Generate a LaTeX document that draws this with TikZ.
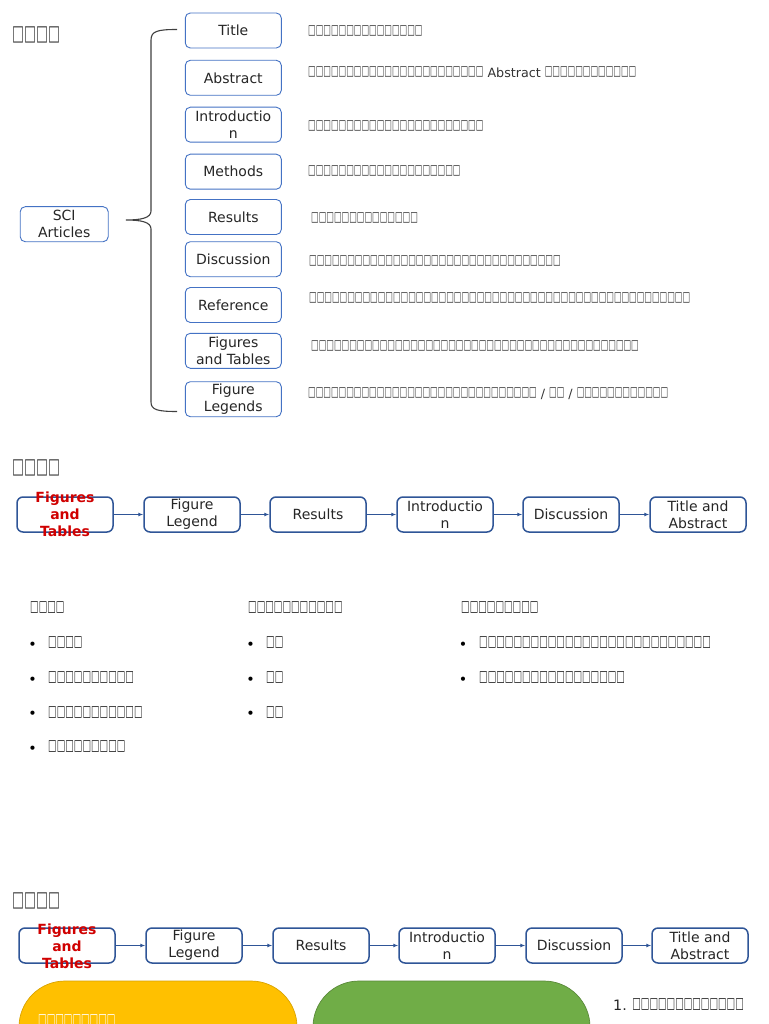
\documentclass[tikz,border=0pt]{standalone}
\usepackage{graphicx}
\usepackage{fontspec}
\setmainfont{DejaVu Sans}
\newfontfamily\tofufont{DejaVu Sans}
\usetikzlibrary{arrows.meta}
\definecolor{nodeblue}{HTML}{4472C4}
\definecolor{flowblue}{HTML}{2F5597}
\definecolor{redtxt}{HTML}{D00000}
\definecolor{ylw}{HTML}{FFC000}
\definecolor{grn}{HTML}{70AD47}
\newcommand\nodefont{\fontsize{14}{16.8}\selectfont}
\newcommand\redfont{\fontsize{14}{17}\selectfont\bfseries}
\newcommand\descfont{\fontsize{12.7}{15}\selectfont}
\newcommand\listfont{\fontsize{14.3}{17}\selectfont}
\newcommand\headfont{\fontsize{20}{24}\selectfont}
\catcode`\□=\active
\def□{\makebox[0.6em][c]{\resizebox*{0.6em}{0.82em}{\raisebox{\depth}{\tofufont\char"25A1}}}}
\begin{document}
\begin{tikzpicture}[x=1pt,y=-1pt,
  topbox/.style={draw=nodeblue, line width=0.9pt, rounded corners=5pt, minimum width=96pt, minimum height=35pt, inner sep=0pt, align=center, font=\nodefont, text=black!85},
  flowbox/.style={topbox, draw=flowblue, line width=1.5pt, rounded corners=6pt},
  desc/.style={anchor=west, inner sep=0pt, font=\descfont, text=black!80, text height=10.4pt, text depth=0pt},
  lst/.style={anchor=west, inner sep=0pt, font=\listfont, text=black!85, text height=11.7pt, text depth=0pt},
  bul/.style={anchor=base, inner sep=0pt, font=\listfont, text=black},
  head/.style={anchor=west, inner sep=0pt, font=\headfont, text=black!75, text height=16.4pt, text depth=0pt},
  redlbl/.style={align=center, font=\redfont, text=redtxt, inner sep=0pt},
  flowarrow/.style={draw=flowblue, line width=1.1pt, -{Latex[length=5pt,width=4pt]}},
  bracestyle/.style={draw=black!75, line width=1.1pt}
]
\useasboundingbox (0,0) rectangle (768,1024);
\fill[white] (0,0) rectangle (768,1024);

% ---------- section 1 ----------
\node[head] (h1) at (12,34.7) {□□□□};
\node[topbox, minimum width=88pt] (sci) at (64.2,224.2) {SCI\\Articles};

\node[topbox] (t1) at (233.3,30.5) {Title};
\node[topbox] (t2) at (233.3,77.8) {Abstract};
\node[topbox] (t3) at (233.3,124.7) {Introductio\\n};
\node[topbox] (t4) at (233.3,171.7) {Methods};
\node[topbox] (t5) at (233.3,217) {Results};
\node[topbox] (t6) at (233.3,259.2) {Discussion};
\node[topbox] (t7) at (233.3,305) {Reference};
\node[topbox] (t8) at (233.3,350.8) {Figures\\and Tables};
\node[topbox] (t9) at (233.3,399.2) {Figure\\Legends};

\coordinate (bt) at (177,29.5);
\coordinate (bm) at (126,220);
\coordinate (bb) at (177,411.5);
\draw[bracestyle] (bt) .. controls (158,29.5) and (151,31) .. (151,40) -- (151,211)
  .. controls (151,218) and (141,220) .. (bm)
  .. controls (141,220) and (151,222) .. (151,229) -- (151,402)
  .. controls (151,410) and (158,411.5) .. (bb);

\node[desc] (d1) at (308,30.5) {□□□□□□□□□□□□□□□};
\node[desc] (d2) at (308,72) {□□□□□□□□□□□□□□□□□□□□□□□ Abstract □□□□□□□□□□□□};
\node[desc] (d3) at (308,125.5) {□□□□□□□□□□□□□□□□□□□□□□□};
\node[desc] (d4) at (308,171) {□□□□□□□□□□□□□□□□□□□□};
\node[desc] (d5) at (311,218) {□□□□□□□□□□□□□□};
\node[desc] (d6) at (309,261) {□□□□□□□□□□□□□□□□□□□□□□□□□□□□□□□□□};
\node[desc] (d7) at (309,298) {□□□□□□□□□□□□□□□□□□□□□□□□□□□□□□□□□□□□□□□□□□□□□□□□□□};
\node[desc] (d8) at (311,345.5) {□□□□□□□□□□□□□□□□□□□□□□□□□□□□□□□□□□□□□□□□□□□};
\node[desc] (d9) at (308,393) {□□□□□□□□□□□□□□□□□□□□□□□□□□□□□□ / □□ / □□□□□□□□□□□□};

% ---------- section 2 ----------
\node[head] (h2) at (12,467.5) {□□□□};
\node[flowbox] (a1) at (65,514.5) {};
\node[redlbl] (a1t) at (a1) {Figures\\and\\Tables};
\node[flowbox] (a2) at (192,514.5) {Figure\\Legend};
\node[flowbox] (a3) at (318,514.5) {Results};
\node[flowbox] (a4) at (445,514.5) {Introductio\\n};
\node[flowbox] (a5) at (571,514.5) {Discussion};
\node[flowbox] (a6) at (698,514.5) {Title and\\Abstract};
\draw[flowarrow, line width=1.5pt] (a1) -- (a2);
\draw[flowarrow] (a2) -- (a3);
\draw[flowarrow] (a3) -- (a4);
\draw[flowarrow] (a4) -- (a5);
\draw[flowarrow] (a5) -- (a6);

% lists
\node[lst] (c1h) at (30,608) {□□□□};
\node[bul] (b11) at (32.5,649.3) {•};
\node[lst] (c11) at (48,643) {□□□□};
\node[bul] (b12) at (32.5,684.3) {•};
\node[lst] (c12) at (48,678) {□□□□□□□□□□};
\node[bul] (b13) at (32.5,718.8) {•};
\node[lst] (c13) at (48,712.5) {□□□□□□□□□□□};
\node[bul] (b14) at (32.5,753.3) {•};
\node[lst] (c14) at (48,747) {□□□□□□□□□};

\node[lst] (c2h) at (248,608) {□□□□□□□□□□□};
\node[bul] (b21) at (250.5,649.3) {•};
\node[lst] (c21) at (266,643) {□□};
\node[bul] (b22) at (250.5,684.3) {•};
\node[lst] (c22) at (266,678) {□□};
\node[bul] (b23) at (250.5,718.8) {•};
\node[lst] (c23) at (266,712.5) {□□};

\node[lst] (c3h) at (461,608) {□□□□□□□□□};
\node[bul] (b31) at (463,649.3) {•};
\node[lst] (c31) at (479,643) {□□□□□□□□□□□□□□□□□□□□□□□□□□□};
\node[bul] (b32) at (463,684.3) {•};
\node[lst] (c32) at (479,677.5) {□□□□□□□□□□□□□□□□□};

% ---------- section 3 ----------
\node[head] (h3) at (12,900.5) {□□□□};
\node[flowbox] (e1) at (67,945.5) {};
\node[redlbl] (e1t) at (67,946) {Figures\\and\\Tables};
\node[flowbox] (e2) at (194,945.5) {Figure\\Legend};
\node[flowbox] (e3) at (321,945.5) {Results};
\node[flowbox] (e4) at (447,945.5) {Introductio\\n};
\node[flowbox] (e5) at (574,945.5) {Discussion};
\node[flowbox] (e6) at (700,945.5) {Title and\\Abstract};
\draw[flowarrow] (e1) -- (e2);
\draw[flowarrow] (e2) -- (e3);
\draw[flowarrow] (e3) -- (e4);
\draw[flowarrow, line width=1.6pt] (e4) -- (e5);
\draw[flowarrow, line width=1.6pt] (e5) -- (e6);

\begin{scope}
\clip (0,0) rectangle (768,1024);
\path[fill=ylw, draw=ylw!85!black, line width=0.7pt, rounded corners=46pt]
  (19,1120) -- (19,981) -- (297,981) -- (297,1120) -- cycle;
\path[fill=grn, draw=grn!80!black, line width=0.7pt, rounded corners=46pt]
  (313,1120) -- (313,981) -- (590,981) -- (590,1120) -- cycle;
\node[lst, text=white] (y1) at (38,1021) {□□□□□□□□□};
\node[lst] (n1) at (613,1004.7) {1.\hspace{5.5pt}□□□□□□□□□□□□□};
\node[lst, text=black!35] (n2) at (628,1030.5) {□□□□□□□□□□□□□};
\end{scope}
\end{tikzpicture}
\end{document}
